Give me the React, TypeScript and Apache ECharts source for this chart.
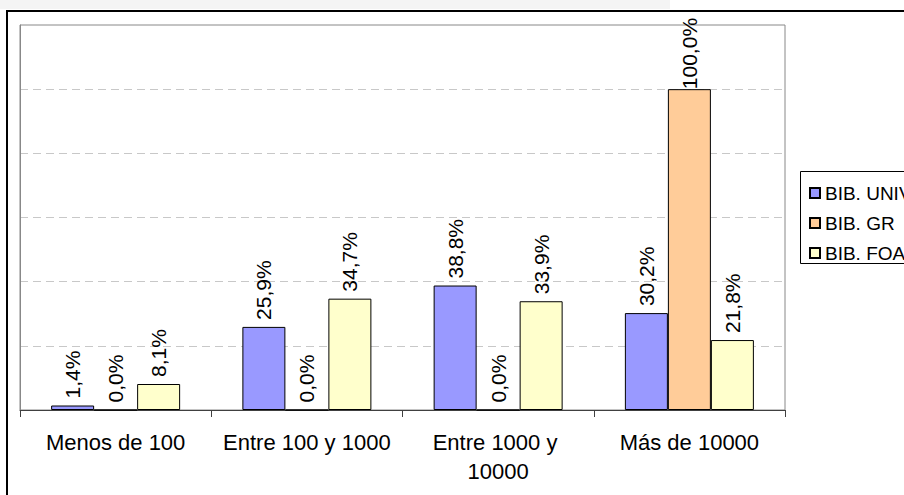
import React, { useEffect, useRef } from "react";
import * as echarts from "echarts";

const categories = ["Menos de 100", "Entre 100 y 1000", "Entre 1000 y 10000", "Más de 10000"];
const seriesNames = ["BIB. UNIV", "BIB. GR", "BIB. FOA"];
const univValues = [1.4, 25.9, 38.8, 30.2];
const grValues = [0.0, 0.0, 0.0, 100.0];
const foaValues = [8.1, 34.7, 33.9, 21.8];
const seriesColors = ["#9999FF", "#FFCC99", "#FFFFCC"];
const yMax = 120;
const yInterval = 20;

const FONT = "'Liberation Sans', Arial, sans-serif";

const fmt = (v: number) => v.toFixed(1).replace(".", ",") + "%";

export default function App() {
  const ref = useRef<HTMLDivElement>(null);

  useEffect(() => {
    if (!ref.current) return;
    const chart = echarts.init(ref.current, null, { renderer: "svg" });
    const allValues = [univValues, grValues, foaValues];

    const series = allValues.map((vals, i) => ({
      name: seriesNames[i],
      type: "bar",
      barWidth: 43,
      barGap: "0%",
      itemStyle: { color: seriesColors[i], borderColor: "#000", borderWidth: 1 },
      label: {
        show: true,
        position: "top",
        rotate: 90,
        align: "left",
        verticalAlign: "middle",
        distance: 7,
        color: "#000",
        fontFamily: FONT,
        fontSize: 21,
        formatter: (p: any) => fmt(p.value),
      },
      data: vals.map((v) => (v >= 100 ? { value: v, label: { distance: 0 } } : v)),
    }));

    chart.setOption({
      animation: false,
      backgroundColor: "#fff",
      textStyle: { fontFamily: FONT },
      grid: {
        left: 20,
        top: 25,
        width: 765,
        height: 385,
        show: true,
        borderColor: "#888",
        borderWidth: 1,
        backgroundColor: "#fff",
      },
      legend: {
        orient: "vertical",
        left: 804,
        top: 178,
        itemWidth: 10,
        itemHeight: 10,
        itemGap: 10,
        icon: "rect",
        textStyle: { color: "#000", fontSize: 19, lineHeight: 20, fontFamily: FONT },
        data: seriesNames,
      },
      xAxis: {
        type: "category",
        data: categories,
        axisLine: { lineStyle: { color: "#404040", width: 1 } },
        axisTick: { show: true, length: 7, lineStyle: { color: "#404040" } },
        axisLabel: {
          interval: 0,
          color: "#000",
          fontSize: 22,
          fontFamily: FONT,
          margin: 18,
          lineHeight: 29,
          width: 178,
          overflow: "break",
        },
      },
      yAxis: {
        type: "value",
        min: 0,
        max: yMax,
        interval: yInterval,
        axisLabel: { show: false },
        axisTick: { show: false },
        axisLine: { show: true, lineStyle: { color: "#888" } },
        splitLine: {
          show: true,
          showMinLine: false,
          showMaxLine: false,
          lineStyle: { color: "#c8c8c8", type: [8, 5], width: 1 },
        },
      },
      graphic: [
        {
          type: "rect",
          shape: { x: 0, y: 0, width: 670, height: 9 },
          style: { fill: "#f4f4f4" },
          silent: true,
        },
        {
          type: "line",
          shape: { x1: 6, y1: 11, x2: 904, y2: 11 },
          style: { stroke: "#000", lineWidth: 2 },
          silent: true,
        },
        {
          type: "line",
          shape: { x1: 7, y1: 10, x2: 7, y2: 495 },
          style: { stroke: "#000", lineWidth: 2 },
          silent: true,
        },
        {
          type: "polyline",
          shape: { points: [[904, 171.5], [800.5, 171.5], [800.5, 263.5], [904, 263.5]] },
          style: { stroke: "#000", lineWidth: 1, fill: null },
          silent: true,
        },
      ],
      series,
    });

    return () => chart.dispose();
  }, []);

  return (
    <div
      ref={ref}
      style={{ position: "absolute", left: 0, top: 0, width: 904, height: 495 }}
    />
  );
}
